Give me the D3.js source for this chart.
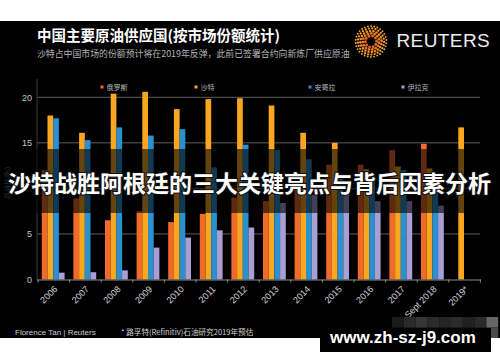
<!DOCTYPE html>
<html lang="zh">
<head>
<meta charset="utf-8">
<title>中国主要原油供应国</title>
<style>
  body{margin:0;background:#fff;}
  svg{display:block;}
  text{font-family:"Noto Sans CJK SC","Liberation Sans",Arial,sans-serif;}
  .num{font-family:"Liberation Sans",Arial,sans-serif;}
</style>
</head>
<body>
<div id="container"></div>
<script src="https://cdn.jsdelivr.net/npm/d3@7/dist/d3.min.js"></script>
<script>
// categories
var years = ["2006","2007","2008","2009","2010","2011","2012","2013","2014","2015","2016","2017","Sept 2018","2019*"];
var seriesNames = ["俄罗斯","沙特","安哥拉","伊拉克"];
// shares of China's crude imports (%)
var russia = [12.0, 8.9, 6.5, 7.5, 6.3, 7.2, 9.0, 8.6, 10.7, 12.6, 12.6, 14.2, 14.9, null];
var saudi  = [18.0, 16.1, 20.4, 20.6, 18.7, 19.8, 19.9, 19.1, 16.1, 15.0, 12.1, 12.4, 12.2, 16.7];
var angola = [17.7, 15.3, 16.7, 15.8, 16.5, 12.3, 14.8, 14.2, 13.2, 11.6, 11.5, 12.0, 10.3, null];
var iraq   = [0.75, 0.8, 1.0, 3.5, 4.6, 5.4, 5.7, 8.4, 9.3, 9.5, 8.6, 8.6, 8.1, null];
var gridTicks = [5, 10, 15, 20];
// the "10" label sits under the banner headline, so only these are shown
var yLabels = [0, 5, 15, 20];

var colors = ["#f06a2a", "#f9a720", "#2a90d0", "#aa9fd4"];
var seriesData = [russia, saudi, angola, iraq];

var width = 500, height = 362;
var svg = d3.select('#container').append('svg').attr('width', width).attr('height', height);

// black panel
svg.append('rect').attr('x', 0).attr('y', 21).attr('width', width).attr('height', 317).attr('fill', '#000');

var x0 = d3.scaleBand().domain(years).range([38, 480.4]);
var x1 = d3.scaleBand().domain(seriesNames).range([3.8, 26.6]);
var y = d3.scaleLinear().domain([0, 20]).range([279.5, 97.3]);

// title
svg.append('text').attr('x', 37).attr('y', 41).attr('fill', '#fff')
  .attr('font-size', 14.5).attr('font-weight', 'bold')
  .text('中国主要原油供应国(按市场份额统计)');
svg.append('text').attr('x', 37).attr('y', 56.5).attr('fill', '#b4b4b4')
  .attr('font-size', 8.9)
  .text('沙特占中国市场的份额预计将在2019年反弹，此前已签署合约向新炼厂供应原油');

// reuters logo
var logo = svg.append('g').attr('transform', 'translate(371,41.5)');
var rings = [[5.6, 10, 1.45, '#e0641e'], [8.1, 15, 1.4, '#ea7a22'], [10.6, 20, 1.3, '#f08c26'], [13.1, 25, 1.15, '#f39a2a'], [15.4, 30, 0.95, '#f5a630']];
rings.forEach(function(r){
  d3.range(r[1]).forEach(function(k){
    var a = k / r[1] * Math.PI * 2 + r[0];
    logo.append('circle').attr('cx', Math.cos(a) * r[0]).attr('cy', Math.sin(a) * r[0])
      .attr('r', r[2]).attr('fill', r[3]);
  });
});
svg.append('text').attr('class', 'num').attr('x', 396.5).attr('y', 47).attr('fill', '#ececec')
  .attr('font-size', 19).attr('letter-spacing', 0.4).text('REUTERS');

// gridlines
svg.append('g').selectAll('line').data(gridTicks).enter()
  .append('line')
  .attr('x1', 37).attr('x2', 480)
  .attr('y1', function(d){ return y(d); }).attr('y2', function(d){ return y(d); })
  .attr('stroke', '#5e5e5e').attr('stroke-width', 1);

// y axis
svg.append('line').attr('x1', 37).attr('x2', 37).attr('y1', 79).attr('y2', y(0))
  .attr('stroke', '#3c3c3c');
var yAxis = svg.append('g').attr('transform', 'translate(37,0)')
  .call(d3.axisLeft(y).tickValues(yLabels).tickSize(0).tickPadding(5));
yAxis.select('.domain').remove();
yAxis.selectAll('text').attr('class', 'num').attr('fill', '#c8c8c8').attr('font-size', 9);

svg.append('text').attr('transform', 'translate(10,183) rotate(-90)').attr('text-anchor', 'middle')
  .attr('fill', '#777').attr('font-size', 7).text('百分比(%)');

// legend
var legendX = [100.5, 194.5, 308.5, 401.5];
var legend = svg.append('g').selectAll('g').data(seriesNames).enter().append('g')
  .attr('transform', function(d, i){ return 'translate(' + legendX[i] + ',87)'; });
legend.append('rect').attr('x', 0).attr('y', -1.5).attr('width', 3).attr('height', 3)
  .attr('fill', function(d, i){ return colors[i]; });
legend.append('text').attr('x', 6).attr('y', 2.5).attr('fill', '#b8b8b8').attr('font-size', 7)
  .text(function(d){ return d; });

// bars
seriesData.forEach(function(vals, s){
  svg.append('g').selectAll('rect')
    .data(years.map(function(yr, i){ return {year: yr, value: vals[i]}; })
      .filter(function(d){ return d.value != null; }))
    .enter().append('rect')
    .attr('x', function(d){ return x0(d.year) + x1(seriesNames[s]); })
    .attr('width', x1.bandwidth())
    .attr('y', function(d){ return y(d.value); })
    .attr('height', function(d){ return y(0) - y(d.value); })
    .attr('fill', colors[s]);
});

// x axis
svg.append('line').attr('x1', 37).attr('x2', 481).attr('y1', y(0) + 0.5).attr('y2', y(0) + 0.5)
  .attr('stroke', '#8a8a8a');
svg.append('g').selectAll('line').data(years.concat(['end'])).enter().append('line')
  .attr('x1', function(d){ return d === 'end' ? x0.range()[1] : x0(d); })
  .attr('x2', function(d){ return d === 'end' ? x0.range()[1] : x0(d); })
  .attr('y1', y(0)).attr('y2', y(0) + 3).attr('stroke', '#8a8a8a');
var xAxis = svg.append('g').attr('transform', 'translate(0,' + y(0) + ')')
  .call(d3.axisBottom(x0).tickSize(0));
xAxis.select('.domain').remove();
xAxis.selectAll('text').attr('class', 'num').attr('fill', '#d4d4d4').attr('font-size', 9)
  .attr('text-anchor', 'end').attr('x', 0).attr('y', 0).attr('dy', '0.35em')
  .attr('transform', 'translate(2,8) rotate(-45)');

// translucent banner + headline
svg.append('rect').attr('x', 0).attr('y', 149).attr('width', width).attr('height', 64)
  .attr('fill', 'rgba(0,0,0,0.6)');
svg.append('text').attr('x', 8).attr('y', 192).attr('fill', '#fff')
  .attr('font-size', 23).attr('font-weight', 'bold')
  .attr('stroke', '#111').attr('stroke-width', 2).attr('paint-order', 'stroke')
  .text('沙特战胜阿根廷的三大关键亮点与背后因素分析');

// footer
svg.append('text').attr('class', 'num').attr('x', 15).attr('y', 335).attr('fill', '#cfcfcf')
  .attr('font-size', 8).text('Florence Tan | Reuters');
svg.append('text').attr('x', 121).attr('y', 335).attr('fill', '#cfcfcf')
  .attr('font-size', 7.6).text('* 路孚特(Refinitiv)石油研究2019年预估');

// pixelated patch + watermark
var mosaic = [["#1b1b1b","#2a2a2a","#363636","#2b2b2b","#242424","#2b2b2b","#202020","#2a2a2a","#666"],
              ["#151515","#202020","#2a2a2a","#222","#1c1c1c","#222","#1a1a1a","#242424","#4a4a4a"]];
mosaic.forEach(function(row, r){
  row.forEach(function(c, k){
    svg.append('rect').attr('x', 392 + k * 11.8).attr('y', 317 + r * 10.5)
      .attr('width', 11.8).attr('height', 10.5).attr('fill', c);
  });
});
svg.append('rect').attr('x', 320).attr('y', 328).attr('width', 171).attr('height', 24).attr('fill', '#000');
svg.append('text').attr('class', 'num').attr('x', 330).attr('y', 343).attr('fill', '#fff')
  .attr('font-size', 17).attr('font-weight', 'bold').text('www.zh-sz-j9.com');
</script>
</body>
</html>
